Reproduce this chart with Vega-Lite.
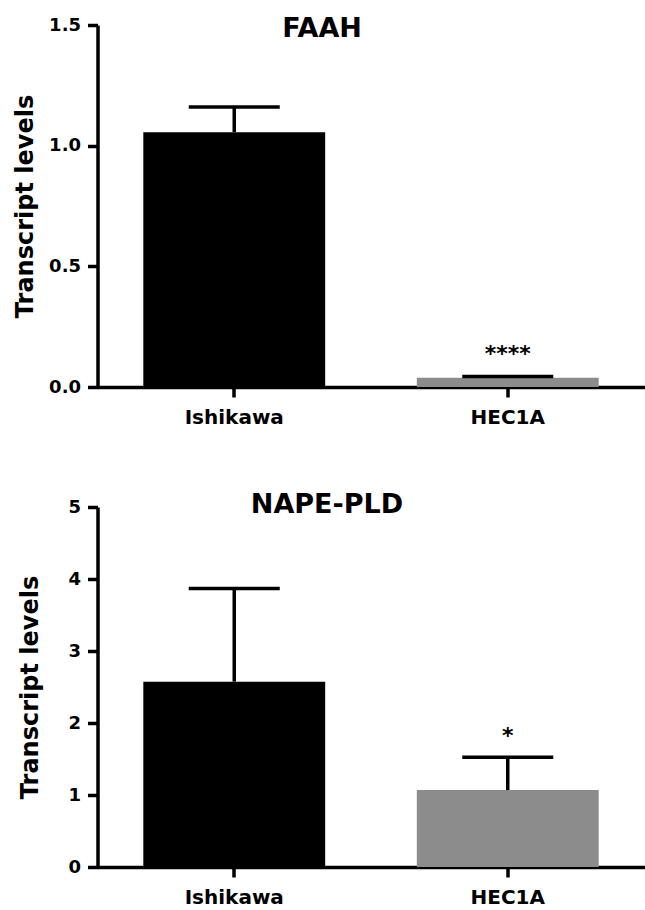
{
  "$schema": "https://vega.github.io/schema/vega-lite/v6.json",
  "background": "white",
  "padding": {"left": 12.5, "top": 15, "right": 0, "bottom": 0},
  "bounds": "flush",
  "spacing": 120,
  "config": {
    "font": "DejaVu Sans",
    "view": {"stroke": null},
    "axis": {
      "grid": false,
      "domainColor": "black",
      "domainWidth": 3.5,
      "tickColor": "black",
      "tickWidth": 3.5,
      "tickSize": 10,
      "labelColor": "black",
      "labelFont": "DejaVu Sans",
      "labelFontWeight": "bold",
      "titleColor": "black",
      "titleFont": "DejaVu Sans",
      "titleFontWeight": "bold"
    },
    "title": {"font": "DejaVu Sans", "fontWeight": "bold", "fontSize": 27, "color": "black", "anchor": "middle", "frame": "group"}
  },
  "vconcat": [
    {
      "width": 547,
      "height": 362,
      "title": {"text": "FAAH", "dx": -49, "dy": 31},
      "data": {"values": [
        {"cell": "Ishikawa", "mean": 1.056, "upper": 1.16, "sig": "", "sigY": 0},
        {"cell": "HEC1A", "mean": 0.038, "upper": 0.043, "sig": "****", "sigY": 0.137}
      ]},
      "encoding": {
        "x": {
          "field": "cell", "type": "nominal", "sort": ["Ishikawa", "HEC1A"],
          "scale": {"paddingInner": 0.335, "paddingOuter": 0.1675},
          "axis": {"title": null, "labelAngle": 0, "labelFontSize": 20, "labelPadding": 10}
        }
      },
      "layer": [
        {
          "mark": {"type": "bar"},
          "encoding": {
            "y": {
              "field": "mean", "type": "quantitative",
              "scale": {"domain": [0, 1.5], "nice": false},
              "axis": {"values": [0, 0.5, 1, 1.5], "format": ".1f", "title": "Transcript levels", "titleFontSize": 24, "labelFontSize": 18, "labelPadding": 7, "titleX": -65.5, "titleBaseline": "alphabetic", "titleAngle": 270}
            },
            "color": {"field": "cell", "type": "nominal", "scale": {"domain": ["Ishikawa", "HEC1A"], "range": ["#000000", "#8c8c8c"]}, "legend": null}
          }
        },
        {
          "mark": {"type": "rule", "strokeWidth": 3.5, "color": "black", "opacity": 1},
          "encoding": {"y": {"field": "mean", "type": "quantitative"}, "y2": {"field": "upper"}}
        },
        {
          "mark": {"type": "tick", "size": 91, "thickness": 3.5, "color": "black", "opacity": 1},
          "encoding": {"y": {"field": "upper", "type": "quantitative"}}
        },
        {
          "transform": [{"filter": "datum.sig != ''"}],
          "mark": {"type": "text", "fontSize": 22, "fontWeight": "bold", "baseline": "middle", "color": "black"},
          "encoding": {"y": {"field": "sigY", "type": "quantitative"}, "text": {"field": "sig"}}
        }
      ]
    },
    {
      "width": 547,
      "height": 360,
      "title": {"text": "NAPE-PLD", "dx": -44, "dy": 25},
      "data": {"values": [
        {"cell": "Ishikawa", "mean": 2.574, "upper": 3.869, "sig": "", "sigY": 0},
        {"cell": "HEC1A", "mean": 1.068, "upper": 1.525, "sig": "*", "sigY": 1.82}
      ]},
      "encoding": {
        "x": {
          "field": "cell", "type": "nominal", "sort": ["Ishikawa", "HEC1A"],
          "scale": {"paddingInner": 0.335, "paddingOuter": 0.1675},
          "axis": {"title": null, "labelAngle": 0, "labelFontSize": 20, "labelPadding": 10}
        }
      },
      "layer": [
        {
          "mark": {"type": "bar"},
          "encoding": {
            "y": {
              "field": "mean", "type": "quantitative",
              "scale": {"domain": [0, 5], "nice": false},
              "axis": {"values": [0, 1, 2, 3, 4, 5], "format": "d", "title": "Transcript levels", "titleFontSize": 24, "labelFontSize": 18, "labelPadding": 7, "titleX": -60.5, "titleBaseline": "alphabetic", "titleAngle": 270}
            },
            "color": {"field": "cell", "type": "nominal", "scale": {"domain": ["Ishikawa", "HEC1A"], "range": ["#000000", "#8c8c8c"]}, "legend": null}
          }
        },
        {
          "mark": {"type": "rule", "strokeWidth": 3.5, "color": "black", "opacity": 1},
          "encoding": {"y": {"field": "mean", "type": "quantitative"}, "y2": {"field": "upper"}}
        },
        {
          "mark": {"type": "tick", "size": 91, "thickness": 3.5, "color": "black", "opacity": 1},
          "encoding": {"y": {"field": "upper", "type": "quantitative"}}
        },
        {
          "transform": [{"filter": "datum.sig != ''"}],
          "mark": {"type": "text", "fontSize": 22, "fontWeight": "bold", "baseline": "middle", "color": "black"},
          "encoding": {"y": {"field": "sigY", "type": "quantitative"}, "text": {"field": "sig"}}
        }
      ]
    }
  ]
}
